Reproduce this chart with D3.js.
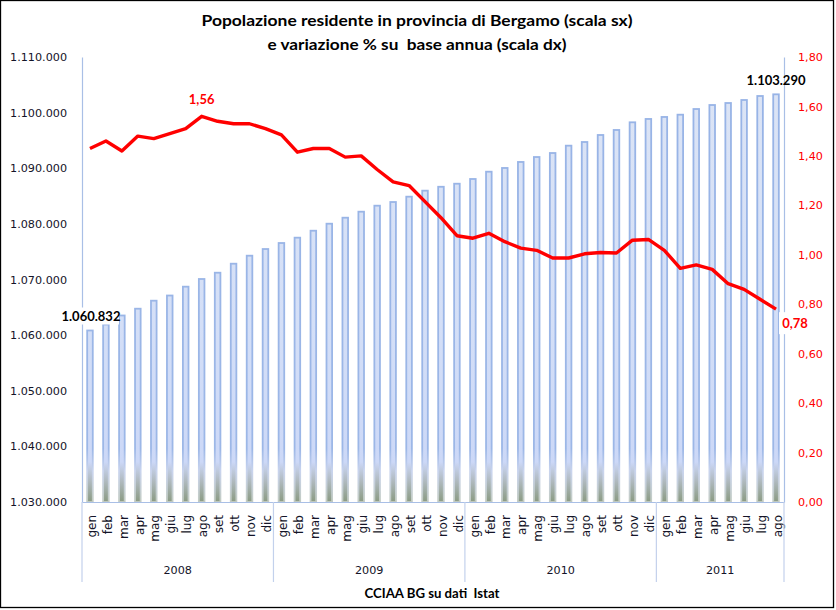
<!DOCTYPE html>
<html><head><meta charset="utf-8">
<script src="https://cdn.jsdelivr.net/npm/d3@7"></script>
<style>body{margin:0;background:#fff} text{white-space:pre}</style>
</head><body>
<svg id="c" width="836" height="610"></svg>
<script>
const years = ["2008","2009","2010","2011"];
const monthsPerYear = [12,12,12,8];
const months = ["gen","feb","mar","apr","mag","giu","lug","ago","set","ott","nov","dic"];
const population = [
  1060832,1061900,1063530,1064750,1066190,1067120,1068710,1070090,1071220,1072840,1074280,1075480,
  1076560,1077520,1078770,1080030,1081110,1082190,1083270,1083930,1084890,1085970,1086670,1087220,
  1088070,1089380,1090050,1091130,1092020,1092740,1094060,1094720,1095980,1096880,1098260,1098860,
  1099220,1099630,1100650,1101370,1101730,1102270,1102990,1103290
];
const variation = [
  1.43,1.46,1.42,1.48,1.47,1.49,1.51,1.56,1.54,1.53,1.53,1.51,
  1.485,1.415,1.43,1.43,1.395,1.40,1.345,1.295,1.28,1.215,1.15,1.077,
  1.067,1.087,1.053,1.027,1.018,0.987,0.987,1.004,1.009,1.007,1.059,1.062,
  1.018,0.945,0.959,0.941,0.883,0.86,0.82,0.78
];
const leftTicks = [1030000,1040000,1050000,1060000,1070000,1080000,1090000,1100000,1110000];
const rightTicks = [0,0.2,0.4,0.6,0.8,1.0,1.2,1.4,1.6,1.8];
const titleLines = ["Popolazione residente in provincia di Bergamo (scala sx)","e variazione % su  base annua (scala dx)"];
const sourceText = "CCIAA BG su dati  Istat";

// build categories
const cats = [];
years.forEach((y,yi)=>{ for(let m=0;m<monthsPerYear[yi];m++) cats.push({year:y, month:months[m], key:y+"-"+m}); });
const data = cats.map((c,i)=>({...c, pop:population[i], v:variation[i]}));

const loc = d3.formatLocale({decimal:",", thousands:".", grouping:[3], currency:["€",""]});
const fmtL = loc.format(",d");
const fmtR = loc.format(",.2f");

const svg = d3.select("#c");
const L=82, R=784, T=57, B=502;
const x = d3.scaleBand().domain(data.map(d=>d.key)).range([L,R]).padding(0);
const yL = d3.scaleLinear().domain([1030000,1110000]).range([B,T]);
const yR = d3.scaleLinear().domain([0,1.8]).range([B,T]);
const cx = k => x(k)+x.bandwidth()/2;

svg.append("rect").attr("x",0.5).attr("y",0.5).attr("width",833).attr("height",607)
  .attr("fill","#fff").attr("stroke","#000").attr("stroke-width",1.3);

const defs = svg.append("defs");
const gf = defs.append("linearGradient").attr("id","gf").attr("gradientUnits","userSpaceOnUse")
  .attr("x1",0).attr("y1",T).attr("x2",0).attr("y2",B);
[[0,"#DDE5F5"],[0.6,"#D4DFF7"],[0.91,"#CCD8F7"],[0.955,"#AEB8BC"],[1,"#8A9A82"]]
  .forEach(s=>gf.append("stop").attr("offset",s[0]).attr("stop-color",s[1]));
const gs = defs.append("linearGradient").attr("id","gs").attr("gradientUnits","userSpaceOnUse")
  .attr("x1",0).attr("y1",T).attr("x2",0).attr("y2",B);
[[0,"#97B3E6"],[0.88,"#9CB7E7"],[0.93,"#C9D4EE"],[1,"#C2CBC2"]]
  .forEach(s=>gs.append("stop").attr("offset",s[0]).attr("stop-color",s[1]));

// title
svg.append("g").selectAll("text").data(titleLines).join("text")
  .attr("x",417).attr("y",(d,i)=>26+i*24).attr("text-anchor","middle")
  .attr("font-family","Lato, 'Open Sans', sans-serif").attr("font-weight","bold").attr("font-size",15.5)
  .attr("textLength",(d,i)=>i===0?431:299).attr("lengthAdjust","spacingAndGlyphs")
  .attr("fill","#000").text(d=>d);

// left axis
const axL = svg.append("g").attr("transform",`translate(${L},0)`)
  .call(d3.axisLeft(yL).tickValues(leftTicks).tickFormat(fmtL).tickSize(0).tickPadding(15));
axL.select(".domain").attr("stroke","#A9BFE6").attr("stroke-width",1.2);
axL.selectAll("text").attr("font-family","'DejaVu Sans', sans-serif").attr("font-size",11.2).attr("fill","#141428");

// right axis
const axR = svg.append("g").attr("transform",`translate(${R},0)`)
  .call(d3.axisRight(yR).tickValues(rightTicks).tickFormat(fmtR).tickSize(0).tickPadding(14));
axR.select(".domain").attr("stroke","#A9BFE6").attr("stroke-width",1.2);
axR.selectAll("text").attr("font-family","'DejaVu Sans', sans-serif").attr("font-size",11.2).attr("fill","#FF0000");

// bars
const bw = 5.6;
svg.append("g").selectAll("rect").data(data).join("rect")
  .attr("x",d=>cx(d.key)-bw/2).attr("width",bw)
  .attr("y",d=>yL(d.pop)).attr("height",d=>B-yL(d.pop))
  .attr("fill","url(#gf)").attr("stroke","url(#gs)").attr("stroke-width",1.8);

// bottom axis
const axB = svg.append("g").attr("transform",`translate(0,${B})`)
  .call(d3.axisBottom(x).tickSize(0).tickFormat(""));
axB.select(".domain").attr("stroke","#A9BFE6").attr("stroke-width",1.2);

// month labels
svg.append("g").selectAll("text").data(data).join("text")
  .attr("transform",d=>`translate(${cx(d.key)+1.5},515) rotate(-90)`)
  .attr("text-anchor","end").attr("dy","0.35em")
  .attr("font-family","'DejaVu Sans', sans-serif").attr("font-size",12).attr("fill","#141428")
  .text(d=>d.month);

// year separators & labels
const yearGroups = years.map((y,yi)=>{
  const ks = data.filter(d=>d.year===y).map(d=>d.key);
  return {year:y, x0:x(ks[0]), x1:x(ks[ks.length-1])+x.bandwidth()};
});
const seps = [yearGroups[0].x0, ...yearGroups.map(g=>g.x1)];
svg.append("g").selectAll("line").data(seps).join("line")
  .attr("x1",d=>d).attr("x2",d=>d).attr("y1",B).attr("y2",582)
  .attr("stroke","#C3D1EC").attr("stroke-width",1.2);
svg.append("g").selectAll("text").data(yearGroups).join("text")
  .attr("x",g=>(g.x0+g.x1)/2).attr("y",574).attr("text-anchor","middle")
  .attr("font-family","'DejaVu Sans', sans-serif").attr("font-size",11.2).attr("fill","#141428")
  .text(g=>g.year);

// line
const line = d3.line().x(d=>cx(d.key)).y(d=>yR(d.v));
svg.append("path").datum(data).attr("d",line).attr("fill","none")
  .attr("stroke","#FF0000").attr("stroke-width",3.4).attr("stroke-linejoin","round");

// data labels
const first = data[0], last = data[data.length-1];
const peak = data.reduce((a,b)=>b.v>a.v?b:a);
const lbl = svg.append("g").attr("font-family","Lato, 'Open Sans', sans-serif").attr("font-weight","bold").attr("font-size",13);
lbl.append("rect").attr("x",cx(first.key)-29).attr("y",yL(first.pop)-23).attr("width",58).attr("height",17).attr("fill","#fff");
lbl.append("text").attr("x",cx(first.key)+1).attr("y",yL(first.pop)-9).attr("text-anchor","middle").attr("fill","#000").text(fmtL(first.pop));
lbl.append("text").attr("x",cx(last.key)).attr("y",yL(last.pop)-9).attr("text-anchor","middle").attr("fill","#000").text(fmtL(last.pop));
lbl.append("text").attr("x",cx(peak.key)).attr("y",yR(peak.v)-12).attr("text-anchor","middle").attr("fill","#FF0000").text(fmtR(peak.v).replace(/0$/,""));
lbl.append("rect").attr("x",cx(last.key)+3).attr("y",yR(last.v)+3).attr("width",34).attr("height",22).attr("fill","#fff");
lbl.append("text").attr("x",cx(last.key)+19).attr("y",yR(last.v)+19).attr("text-anchor","middle").attr("fill","#FF0000").text(fmtR(last.v));

// source
svg.append("text").attr("x",432).attr("y",598).attr("text-anchor","middle")
  .attr("font-family","Lato, 'Open Sans', sans-serif").attr("font-weight","bold").attr("font-size",13)
  .attr("textLength",135).attr("lengthAdjust","spacingAndGlyphs").attr("fill","#000").text(sourceText);
</script>
</body></html>
